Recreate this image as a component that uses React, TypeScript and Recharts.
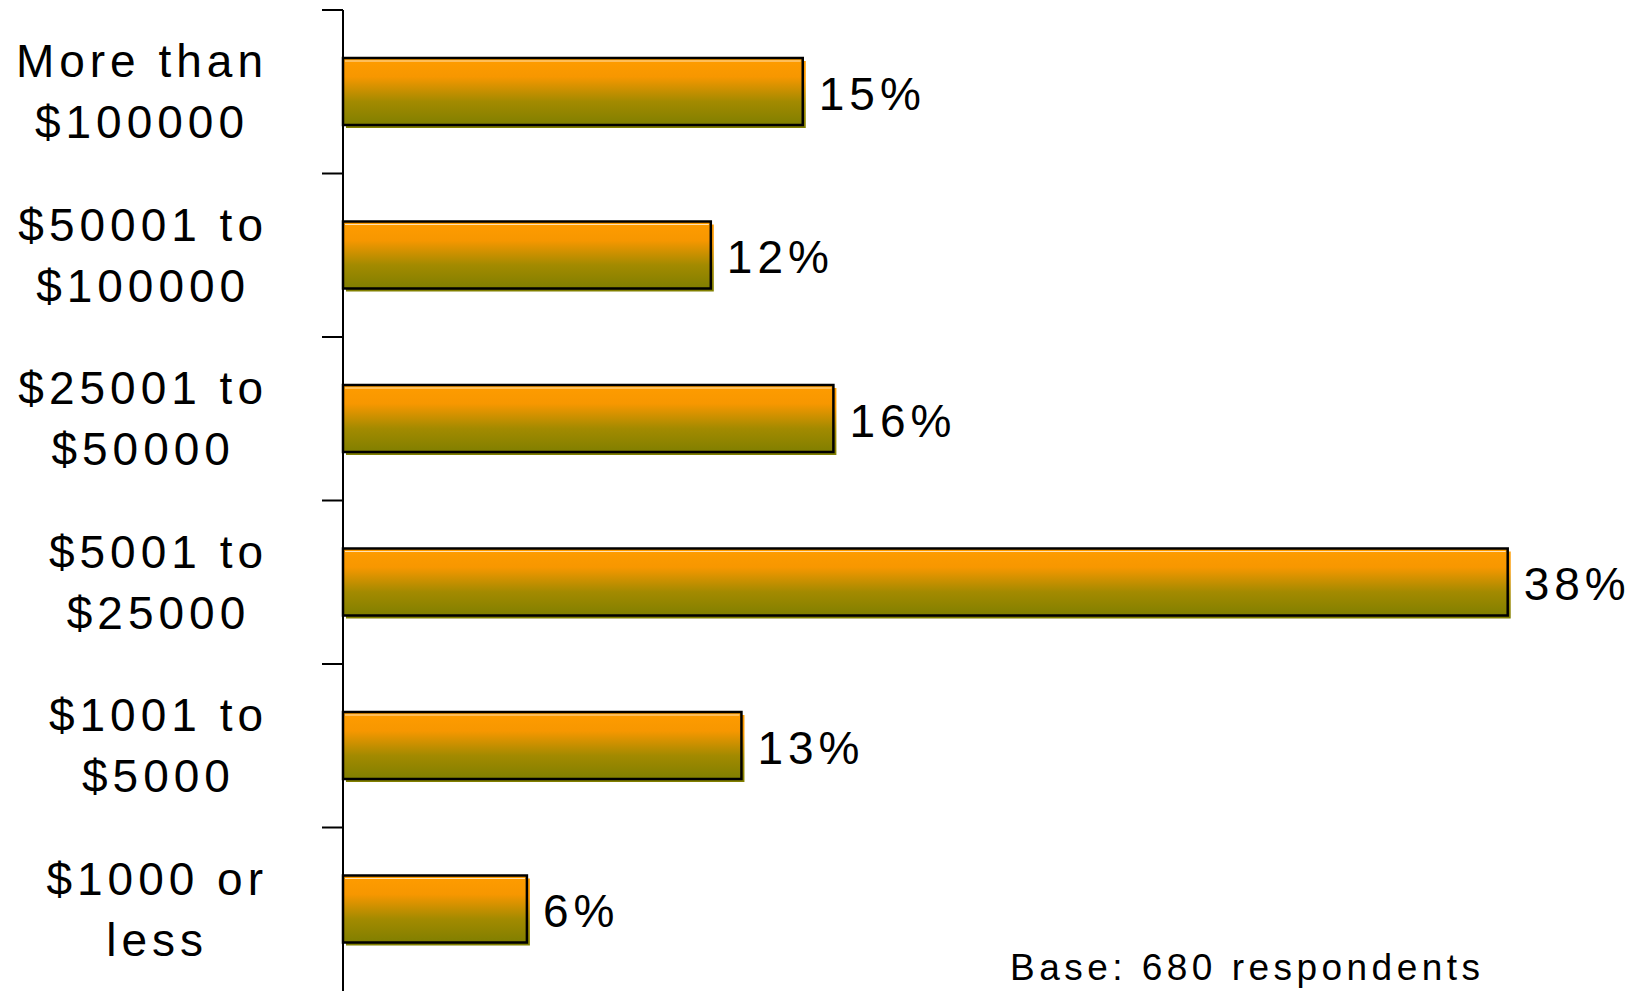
import { useLayoutEffect, useRef, useState } from 'react';
import { Bar, BarChart, LabelList, XAxis, YAxis } from 'recharts';

// Income bands (top to bottom) and share of respondents
const categories = [
   'More than\n$100000',
   '$50001 to\n$100000',
   '$25001 to\n$50000',
   '$5001 to\n$25000',
   '$1001 to\n$5000',
   '$1000 or\nless',
];
const shares = [15, 12, 16, 38, 13, 6];
const baseNote = 'Base: 680 respondents';

const data = categories.map((name, i) => ({ name, value: shares[i] }));

const AXIS_X = 343;
const LABEL_RIGHT = 268;
const FONT = '"Liberation Sans", Arial, sans-serif';

// block of lines right-aligned on the widest (first) line, lines centred within it
function CategoryTick(props: any) {
   const { y, payload } = props;
   const half = payload?.offset ?? 0;
   const lines = String(payload.value).split('\n');
   const top = y - half;
   const firstRef = useRef<SVGTextElement>(null);
   const [w, setW] = useState(0);

   useLayoutEffect(() => {
      if (firstRef.current) setW(firstRef.current.getComputedTextLength());
   }, [payload.value]);

   const center = LABEL_RIGHT - w / 2;
   return (
      <g>
         <line x1={AXIS_X - 21} x2={AXIS_X} y1={top} y2={top} stroke="#000" strokeWidth={2} />
         {lines.map((ln, i) => (
            <text
               key={i}
               ref={i === 0 ? firstRef : undefined}
               x={i === 0 ? LABEL_RIGHT : center}
               y={y + (i - (lines.length - 1) / 2) * 61}
               textAnchor={i === 0 ? 'end' : 'middle'}
               dominantBaseline="central"
               fontFamily={FONT}
               fontSize={46}
               letterSpacing={5}
               fill="#000"
            >
               {ln}
            </text>
         ))}
      </g>
   );
}

function GradientBar(props: any) {
   const { x, y, width, height } = props;
   if (!width || width <= 0) return null;
   return (
      <g>
         <rect x={x + 3} y={y + 3} width={width} height={height} fill="url(#barGrad)" />
         <rect x={x} y={y} width={width} height={height} fill="url(#barGrad)" stroke="#000" strokeWidth={2.5} />
         <line x1={x + 2} x2={x + width - 2} y1={y + 3} y2={y + 3} stroke="#fff" strokeOpacity={0.7} strokeWidth={1} />
      </g>
   );
}

function ValueLabel(props: any) {
   const { x, y, width, height, value } = props;
   return (
      <text
         x={x + width + 16}
         y={y + height / 2 + 2}
         dominantBaseline="central"
         fontFamily={FONT}
         fontSize={46}
         letterSpacing={5}
         fill="#000"
      >
         {`${value}%`}
      </text>
   );
}

export default function App() {
   return (
      <div style={{ position: 'absolute', left: 0, top: 0, background: '#fff' }}>
         <BarChart
            width={1641}
            height={991}
            data={data}
            layout="vertical"
            margin={{ top: 10, right: 72, bottom: 0, left: 0 }}
         >
            <defs>
               <linearGradient id="barGrad" x1="0" y1="0" x2="0" y2="1">
                  <stop offset="0%" stopColor="#FF9C00" />
                  <stop offset="28%" stopColor="#F79700" />
                  <stop offset="65%" stopColor="#A38A00" />
                  <stop offset="100%" stopColor="#807F00" />
               </linearGradient>
            </defs>
            <XAxis type="number" domain={[0, 40]} hide />
            <YAxis
               type="category"
               dataKey="name"
               width={AXIS_X}
               axisLine={{ stroke: '#000', strokeWidth: 2 }}
               tickLine={false}
               tick={<CategoryTick />}
               interval={0}
            />
            <Bar dataKey="value" barSize={67} shape={<GradientBar />} isAnimationActive={false}>
               <LabelList dataKey="value" content={<ValueLabel />} />
            </Bar>
            <text
               x={1010}
               y={980}
               fontFamily={FONT}
               fontSize={37}
               textLength={470}
               lengthAdjust="spacing"
               fill="#000"
            >
               {baseNote}
            </text>
         </BarChart>
      </div>
   );
}
